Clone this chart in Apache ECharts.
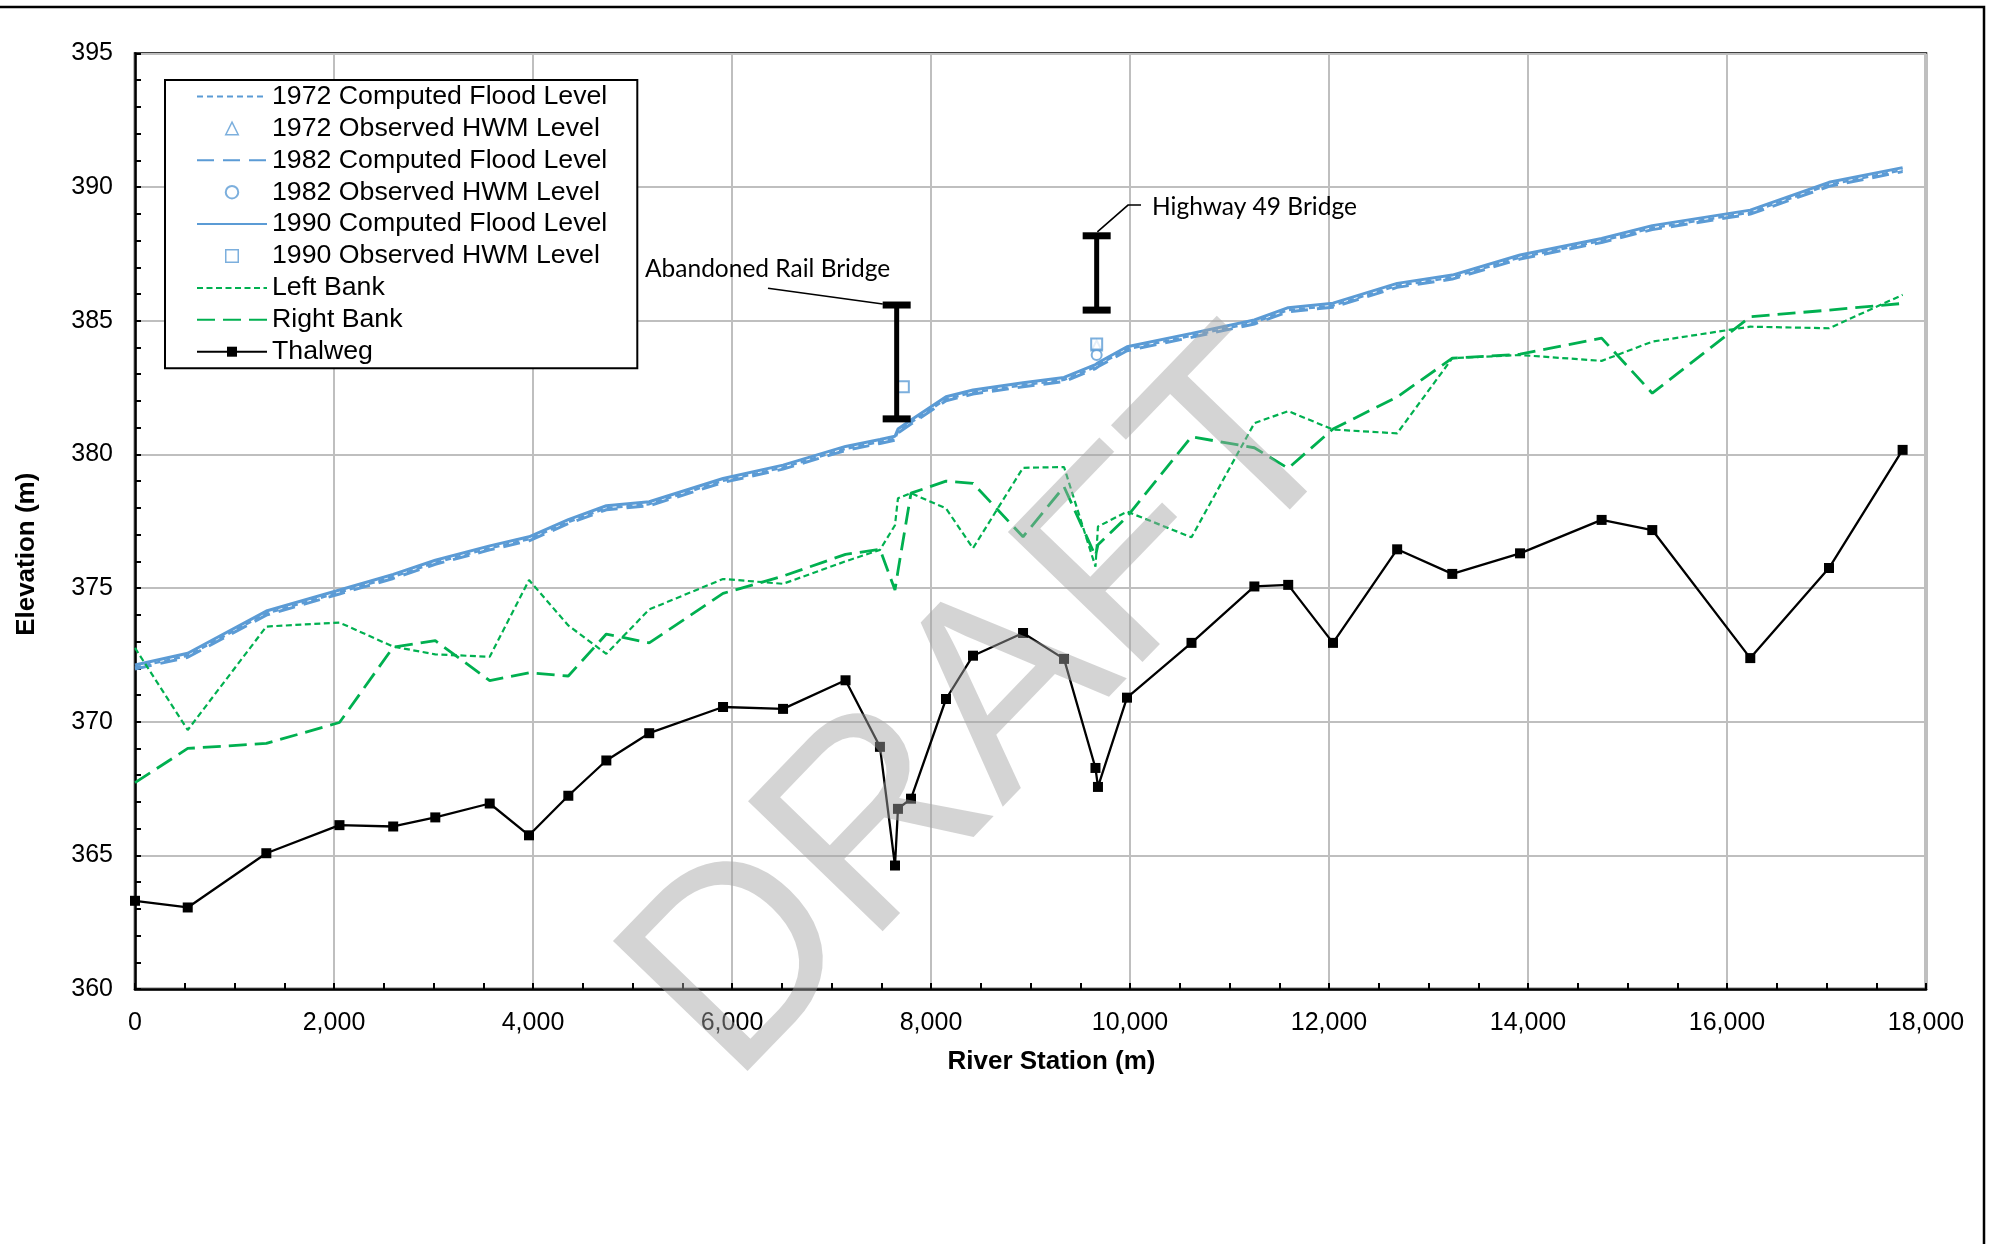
<!DOCTYPE html>
<html>
<head>
<meta charset="utf-8">
<script src="https://cdn.jsdelivr.net/npm/echarts@6/dist/echarts.min.js"></script>
<style>
  html, body { margin: 0; padding: 0; background: #fff; }
  #chart { width: 1996px; height: 1244px; }
</style>
</head>
<body>
<div id="chart"></div>
<script>
// Surveyed cross-section river stations (m)
const stations = [0, 530, 1320, 2055, 2595, 3018, 3565, 3960, 4355, 4737, 5168, 5910, 6513, 7141, 7487, 7638, 7668, 7799, 8151, 8422, 8925, 9337, 9653, 9678, 9970, 10618, 11250, 11590, 12040, 12685, 13239, 13920, 14740, 15249, 16234, 17025, 17765];

// Channel bed (thalweg) elevation at each station (m)
const thalweg = [363.30, 363.05, 365.08, 366.13, 366.08, 366.42, 366.94, 365.75, 367.23, 368.55, 369.57, 370.55, 370.48, 371.55, 369.06, 364.62, 366.74, 367.12, 370.85, 372.47, 373.32, 372.35, 368.27, 367.56, 370.90, 372.95, 375.06, 375.12, 372.95, 376.45, 375.53, 376.30, 377.55, 377.17, 372.38, 375.75, 380.17];

// Bank top elevations (m)
const leftBank = [372.76, 369.69, 373.56, 373.71, 372.81, 372.52, 372.43, 375.30, 373.60, 372.54, 374.20, 375.34, 375.16, 376.00, 376.43, 377.35, 378.36, 378.55, 377.98, 376.49, 379.50, 379.53, 375.80, 377.30, 377.86, 376.90, 381.17, 381.62, 380.93, 380.79, 383.60, 383.72, 383.50, 384.22, 384.78, 384.72, 385.97];
const rightBank = [367.72, 369.00, 369.19, 369.97, 372.79, 373.03, 371.54, 371.83, 371.71, 373.28, 372.95, 374.80, 375.45, 376.26, 376.45, 374.93, 375.64, 378.55, 379.00, 378.92, 376.92, 378.79, 376.20, 376.62, 377.67, 380.66, 380.25, 379.48, 380.95, 382.15, 383.60, 383.75, 384.35, 382.29, 385.15, 385.40, 385.65];

// Computed water surface profiles for the three flood events (m)
const flood1972 = [372.03, 372.47, 374.05, 374.84, 375.42, 375.95, 376.49, 376.83, 377.47, 377.99, 378.14, 379.01, 379.51, 380.21, 380.47, 380.59, 380.86, 381.20, 382.07, 382.32, 382.59, 382.79, 383.27, 383.34, 383.94, 384.44, 384.94, 385.40, 385.57, 386.31, 386.62, 387.37, 387.99, 388.47, 389.05, 390.09, 390.64];
const flood1982 = [371.97, 372.41, 373.99, 374.78, 375.36, 375.89, 376.43, 376.77, 377.41, 377.93, 378.08, 378.95, 379.45, 380.15, 380.41, 380.53, 380.80, 381.14, 382.01, 382.26, 382.53, 382.73, 383.21, 383.28, 383.88, 384.38, 384.88, 385.34, 385.51, 386.25, 386.56, 387.31, 387.93, 388.41, 388.99, 390.03, 390.58];
const flood1990 = [372.12, 372.56, 374.14, 374.93, 375.51, 376.04, 376.58, 376.92, 377.56, 378.08, 378.23, 379.10, 379.60, 380.30, 380.56, 380.68, 380.95, 381.29, 382.16, 382.41, 382.68, 382.88, 383.36, 383.43, 384.03, 384.53, 385.03, 385.49, 385.66, 386.40, 386.71, 387.46, 388.08, 388.56, 389.14, 390.18, 390.73];

// Observed high-water marks: [station, elevation]
const hwm1972 = [[9665, 384.08]];
const hwm1982 = [[9665, 383.72]];
const hwm1990 = [[7722, 382.53], [9665, 384.13]];

// Bridge crossings: low chord and deck elevations (m)
const bridgeNames = ['Abandoned Rail Bridge', 'Highway 49 Bridge'];
const bridgeStations = [7655, 9665];
const bridgeLow = [381.33, 385.40];
const bridgeHigh = [385.59, 388.18];

// Callout text anchors and leader paths, in station / elevation units
const calloutAnchors = [[5126, 386.94], [10221, 389.26]];
const calloutLeaders = [
  [[6362, 386.22], [7515, 385.63]],
  [[9672, 388.33], [9980, 389.33], [10111, 389.33]]
];

// Axis ranges: [min, max, interval]
const stationRange = [0, 18000, 2000];
const elevationRange = [360, 395, 5];

const seriesNames = [
  '1972 Computed Flood Level', '1972 Observed HWM Level',
  '1982 Computed Flood Level', '1982 Observed HWM Level',
  '1990 Computed Flood Level', '1990 Observed HWM Level',
  'Left Bank', 'Right Bank', 'Thalweg'
];

const BLUE = '#5B9BD5';
const GREEN = '#00B050';
const FONT = '"Liberation Sans", Arial, sans-serif';
const pair = ys => stations.map((s, i) => [s, ys[i]]);

// Legend entries: plain lines hide the marker; hollow markers keep a square aspect
const hollow = { color: '#fff', borderColor: BLUE, borderWidth: 1.5 };
const lineOnly = { opacity: 0 };
const legendData = [
  { name: seriesNames[0], itemStyle: lineOnly },
  { name: seriesNames[1], icon: 'path://M5,0 L10,10 L0,10 Z', itemStyle: hollow },
  { name: seriesNames[2], itemStyle: lineOnly },
  { name: seriesNames[3], icon: 'emptyCircle' },
  { name: seriesNames[4], itemStyle: lineOnly },
  { name: seriesNames[5], icon: 'path://M0,0 L10,0 L10,10 L0,10 Z', itemStyle: hollow },
  { name: seriesNames[6], itemStyle: lineOnly },
  { name: seriesNames[7], itemStyle: lineOnly },
  { name: seriesNames[8] }
];

const chart = echarts.init(document.getElementById('chart'), null, { renderer: 'canvas' });

chart.setOption({
  animation: false,
  backgroundColor: '#fff',
  grid: {
    left: 135, right: 70, top: 53.5, bottom: 255,
    show: true, borderColor: '#000', borderWidth: 2.5
  },
  legend: {
    data: legendData,
    orient: 'vertical',
    left: 165, top: 80,
    itemWidth: 70, itemHeight: 12.5, itemGap: 3.9,
    padding: [2.5, 30, 2.6, 31],
    symbolKeepAspect: true,
    borderColor: '#000', borderWidth: 2, backgroundColor: '#fff',
    selectedMode: false,
    textStyle: { fontSize: 26.7, fontFamily: FONT, color: '#000', lineHeight: 28 }
  },
  xAxis: {
    type: 'value',
    min: stationRange[0], max: stationRange[1], interval: stationRange[2],
    name: 'River Station (m)',
    nameLocation: 'middle', nameGap: 60,
    nameTextStyle: { fontSize: 26, fontWeight: 'bold', fontFamily: FONT, color: '#000', padding: [0, 0, 0, 42] },
    axisLine: { lineStyle: { color: '#000', width: 2.5 } },
    axisTick: { show: true, inside: true, length: 6, lineStyle: { color: '#000', width: 2 } },
    minorTick: { show: true, splitNumber: 4, length: 6, lineStyle: { color: '#000', width: 2 } },
    splitLine: { show: true, lineStyle: { color: '#BFBFBF', width: 2 } },
    axisLabel: {
      fontSize: 25, fontFamily: FONT, color: '#000', margin: 21.5,
      formatter: v => v.toLocaleString('en-US')
    }
  },
  yAxis: {
    type: 'value',
    min: elevationRange[0], max: elevationRange[1], interval: elevationRange[2],
    name: 'Elevation (m)',
    nameLocation: 'middle', nameGap: 95, nameRotate: 90,
    nameTextStyle: { fontSize: 26, fontWeight: 'bold', fontFamily: FONT, color: '#000', padding: [0, 66, 0, 0] },
    axisLine: { show: true, lineStyle: { color: '#000', width: 2.5 } },
    axisTick: { show: true, inside: true, length: 6, lineStyle: { color: '#000', width: 2 } },
    minorTick: { show: true, splitNumber: 5, length: 6, lineStyle: { color: '#000', width: 2 } },
    splitLine: { show: true, lineStyle: { color: '#BFBFBF', width: 2 } },
    axisLabel: { fontSize: 25, fontFamily: FONT, color: '#000', margin: 22, padding: [12, 0, 0, 0] }
  },
  series: [
    {
      name: seriesNames[0], type: 'line', data: pair(flood1972), symbol: 'none',
      lineStyle: { color: BLUE, width: 2.5, type: [6, 4] }, itemStyle: { color: BLUE }
    },
    {
      name: seriesNames[1], type: 'scatter', data: hwm1972, symbol: 'emptyTriangle', symbolSize: 10,
      itemStyle: { color: BLUE, borderWidth: 1.5 }, z: 4
    },
    {
      name: seriesNames[2], type: 'line', data: pair(flood1982), symbol: 'none',
      lineStyle: { color: BLUE, width: 3, type: [17, 9] }, itemStyle: { color: BLUE }
    },
    {
      name: seriesNames[3], type: 'scatter', data: hwm1982, symbol: 'emptyCircle', symbolSize: 10,
      itemStyle: { color: BLUE, borderWidth: 1.5 }, z: 4
    },
    {
      name: seriesNames[4], type: 'line', data: pair(flood1990), symbol: 'none',
      lineStyle: { color: BLUE, width: 3, type: 'solid' }, itemStyle: { color: BLUE }
    },
    {
      name: seriesNames[5], type: 'scatter', data: hwm1990, symbol: 'emptyRect', symbolSize: 11,
      itemStyle: { color: BLUE, borderWidth: 1.5 }, z: 4
    },
    {
      name: seriesNames[6], type: 'line', data: pair(leftBank), symbol: 'none',
      lineStyle: { color: GREEN, width: 2.2, type: [6, 3.5] }, itemStyle: { color: GREEN }
    },
    {
      name: seriesNames[7], type: 'line', data: pair(rightBank), symbol: 'none',
      lineStyle: { color: GREEN, width: 2.8, type: [18, 8] }, itemStyle: { color: GREEN }
    },
    {
      name: seriesNames[8], type: 'line', data: pair(thalweg), symbol: 'rect', symbolSize: 10,
      lineStyle: { color: '#000', width: 2.3 }, itemStyle: { color: '#000' }
    },
    {
      // Bridge openings drawn as I-beams from low chord to deck
      type: 'custom', name: 'bridges', silent: true, z: 5,
      data: bridgeStations.map((s, i) => [s, bridgeLow[i], bridgeHigh[i]]),
      encode: { x: 0, y: [1, 2] },
      renderItem(params, api) {
        const st = api.value(0);
        const top = api.coord([st, api.value(2)]);
        const bot = api.coord([st, api.value(1)]);
        const capW = 28, capH = 7, stemW = 5;
        return {
          type: 'group',
          children: [
            { type: 'rect', shape: { x: top[0] - stemW / 2, y: top[1], width: stemW, height: bot[1] - top[1] }, style: { fill: '#000' } },
            { type: 'rect', shape: { x: top[0] - capW / 2, y: top[1] - capH / 2, width: capW, height: capH }, style: { fill: '#000' } },
            { type: 'rect', shape: { x: bot[0] - capW / 2, y: bot[1] - capH / 2, width: capW, height: capH }, style: { fill: '#000' } }
          ]
        };
      }
    },
    {
      // Bridge name callouts with leader lines
      type: 'custom', name: 'callouts', silent: true, z: 6,
      data: calloutAnchors,
      renderItem(params, api) {
        const i = params.dataIndex;
        const pts = calloutLeaders[i].map(p => api.coord(p));
        const at = api.coord(calloutAnchors[i]);
        return {
          type: 'group',
          children: [
            { type: 'polyline', shape: { points: pts }, style: { stroke: '#000', lineWidth: 1.6, fill: null } },
            { type: 'text', x: at[0], y: at[1], style: { text: bridgeNames[i], font: '24.5px Lato, "Open Sans", sans-serif', fill: '#000', align: 'left', verticalAlign: 'middle' } }
          ]
        };
      }
    }
  ],
  graphic: [
    {
      // Chart frame
      type: 'rect', z: 50, silent: true,
      shape: { x: -10, y: 7, width: 1994, height: 1300 },
      style: { fill: 'none', stroke: '#000', lineWidth: 2.5 }
    },
    {
      // DRAFT watermark over the plot
      type: 'text', z: 100, silent: true,
      x: 990, y: 712, rotation: 46 * Math.PI / 180, scaleX: 0.99,
      style: {
        text: 'DRAFT', font: '272px "Liberation Sans", Arial, sans-serif',
        fill: 'rgba(164,164,164,0.47)', align: 'center', verticalAlign: 'middle'
      }
    }
  ]
});
</script>
</body>
</html>
